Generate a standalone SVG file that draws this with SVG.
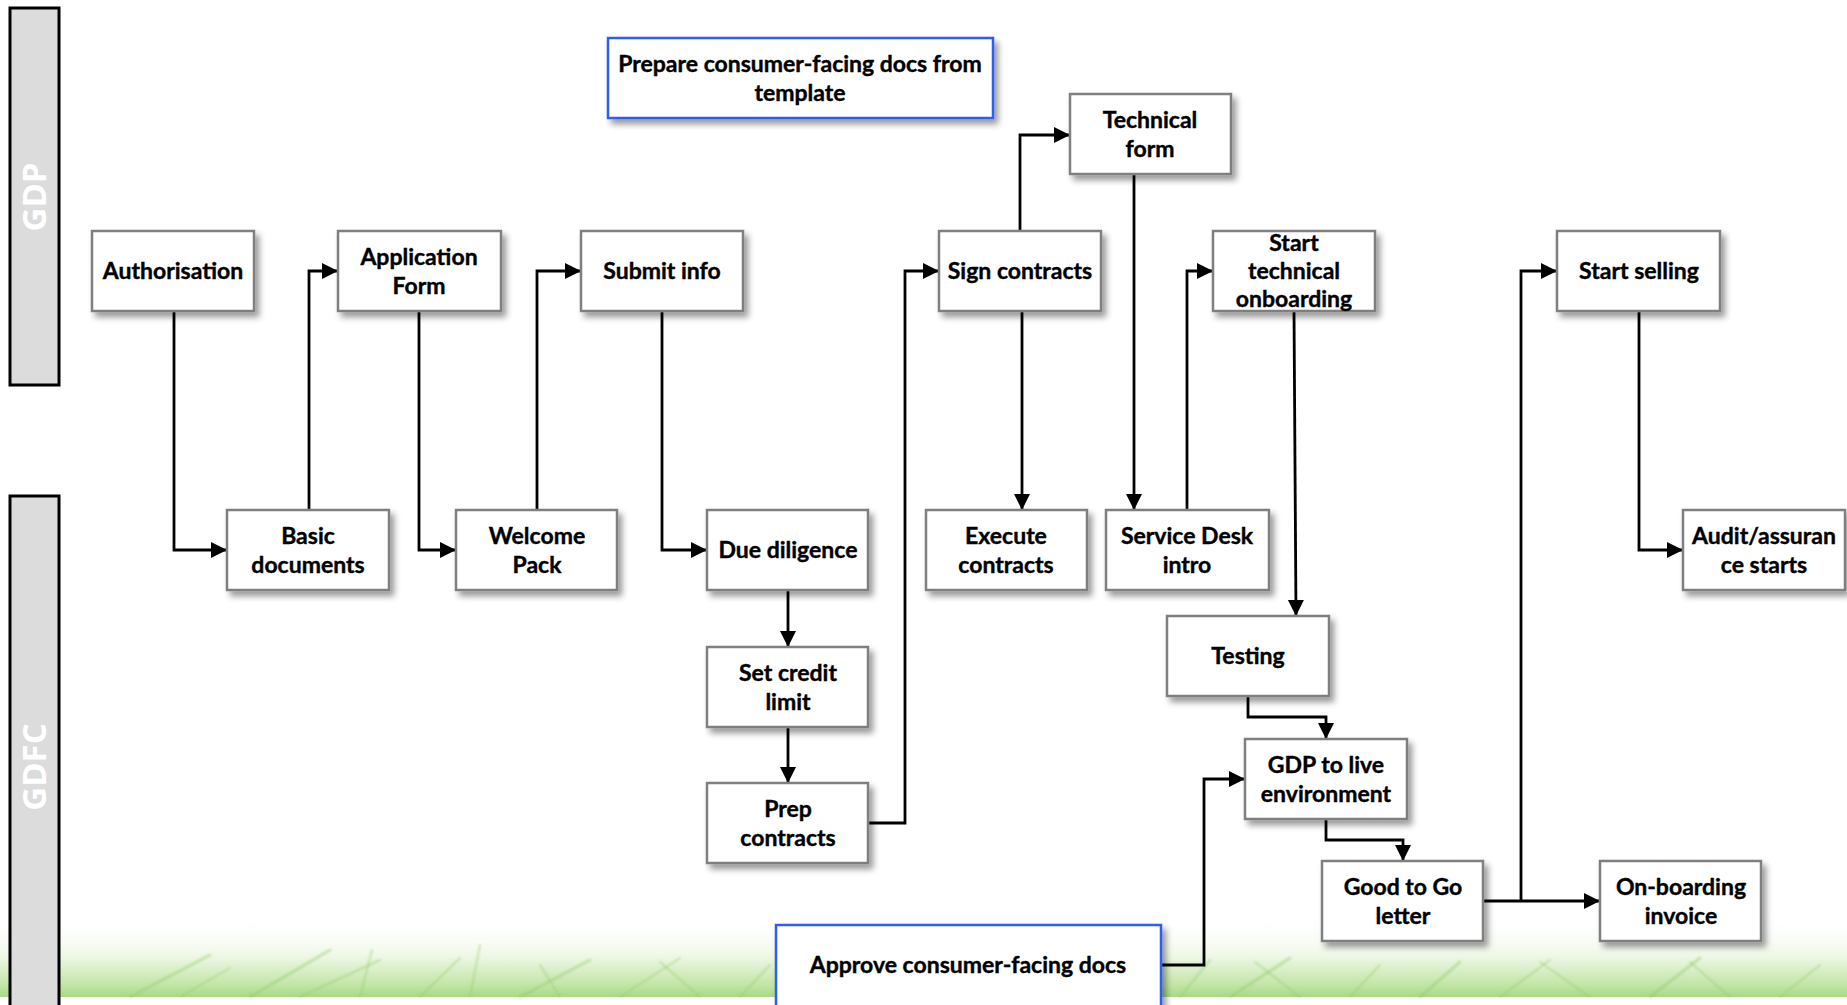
<svg xmlns="http://www.w3.org/2000/svg" width="1847" height="1005" viewBox="0 0 1847 1005">
  <style>
    .box { fill: #ffffff; stroke: #7f7f7f; stroke-width: 2.5; filter: url(#shadow); }
    .note { fill: #ffffff; stroke: #2f5df2; stroke-width: 2.5; filter: url(#shadow); }
    .lbl { font-family: Lato, "Open Sans", "Liberation Sans", sans-serif; font-weight: bold; font-size: 23px; fill: #000000; stroke: #000000; stroke-width: 0.4; text-anchor: middle; }
    .lane { fill: #dcdcdc; stroke: #000000; stroke-width: 3; }
    .lanetxt { font-family: "Open Sans", "Liberation Sans", sans-serif; font-weight: bold; font-size: 33px; fill: #ffffff; text-anchor: middle; }
    .wire { fill: none; stroke: #000000; stroke-width: 2.8; marker-end: url(#arrow); }
    .blade { fill: none; stroke: #93cd6c; stroke-linecap: round; }
  </style>
  <defs>
    <filter id="shadow" x="-10%" y="-10%" width="130%" height="140%">
      <feDropShadow dx="4" dy="5" stdDeviation="3" flood-color="#000000" flood-opacity="0.4"/>
    </filter>
    <filter id="lineShadow" x="-1%" y="-200%" width="102%" height="500%">
      <feDropShadow dx="2" dy="4" stdDeviation="2" flood-color="#000000" flood-opacity="0.3"/>
    </filter>
    <filter id="soft" x="-5%" y="-50%" width="110%" height="200%">
      <feGaussianBlur stdDeviation="1.2"/>
    </filter>
    <marker id="arrow" markerUnits="userSpaceOnUse" markerWidth="17" markerHeight="17" refX="16" refY="8" orient="auto">
      <path d="M0,0 L16,8 L0,16 Z" fill="#000000"/>
    </marker>
    <linearGradient id="grass" x1="0" y1="0" x2="0" y2="1">
      <stop offset="0" stop-color="#ffffff" stop-opacity="0"/>
      <stop offset="0.5" stop-color="#eef8e6"/>
      <stop offset="0.85" stop-color="#c3e5a6"/>
      <stop offset="1" stop-color="#a9d986"/>
    </linearGradient>
  </defs>

  <rect x="0" y="0" width="1847" height="1005" fill="#ffffff"/>

  <!-- grass strip along the bottom -->
  <g id="grass-band">
    <rect x="0" y="915" width="1847" height="82" fill="url(#grass)"/>
    <g class="blade" stroke-opacity="0.45" filter="url(#soft)">
      <path d="M130 997 L210 955" stroke-width="3"/>
      <path d="M180 997 L230 968" stroke-width="2"/>
      <path d="M250 997 L330 950" stroke-width="3"/>
      <path d="M300 997 L380 960" stroke-width="2"/>
      <path d="M360 997 L372 950" stroke-width="2"/>
      <path d="M420 997 L460 958" stroke-width="2"/>
      <path d="M470 997 L480 945" stroke-width="2"/>
      <path d="M520 997 L590 960" stroke-width="3"/>
      <path d="M560 997 L540 965" stroke-width="2"/>
      <path d="M620 997 L680 958" stroke-width="2"/>
      <path d="M700 997 L660 962" stroke-width="2"/>
      <path d="M740 997 L770 965" stroke-width="2"/>
      <path d="M1180 997 L1210 960" stroke-width="2"/>
      <path d="M1230 997 L1290 958" stroke-width="3"/>
      <path d="M1300 997 L1255 962" stroke-width="2"/>
      <path d="M1350 997 L1380 965" stroke-width="2"/>
      <path d="M1420 997 L1460 962" stroke-width="3"/>
      <path d="M1500 997 L1550 960" stroke-width="2"/>
      <path d="M1590 997 L1540 962" stroke-width="2"/>
      <path d="M1650 997 L1700 958" stroke-width="3"/>
      <path d="M1730 997 L1690 962" stroke-width="2"/>
      <path d="M1780 997 L1820 965" stroke-width="2"/>
    </g>
  </g>

  <!-- swimlane labels -->
  <g id="lane-gdp">
    <rect class="lane" x="10" y="8" width="49" height="377"/>
    <text class="lanetxt" transform="translate(46 197) rotate(-90)">GDP</text>
  </g>
  <g id="lane-gdfc">
    <rect class="lane" x="10" y="496" width="49" height="520"/>
    <text class="lanetxt" transform="translate(46 767) rotate(-90)">GDFC</text>
  </g>

  <!-- lane divider -->
  <line x1="32" y1="390" x2="1814" y2="390" stroke="#000000" stroke-width="3" stroke-dasharray="11 7" filter="url(#lineShadow)"/>

  <!-- connectors -->
  <g id="connectors">
    <path class="wire" d="M174 311 V550 H227"/>
    <path class="wire" d="M309 510 V271 H338"/>
    <path class="wire" d="M419 311 V550 H456"/>
    <path class="wire" d="M537 510 V271 H581"/>
    <path class="wire" d="M662 311 V550 H707"/>
    <path class="wire" d="M788 590 V647"/>
    <path class="wire" d="M788 727 V783"/>
    <path class="wire" d="M868 823 H905 V271 H939"/>
    <path class="wire" d="M1020 231 V135 H1070"/>
    <path class="wire" d="M1022 311 V510"/>
    <path class="wire" d="M1134 174 V510"/>
    <path class="wire" d="M1187 510 V271 H1213"/>
    <path class="wire" d="M1294 311 L1296 616"/>
    <path class="wire" d="M1248 696 V717 H1326 V739"/>
    <path class="wire" d="M1161 965 H1204 V779 H1245"/>
    <path class="wire" d="M1326 819 V840 H1403 V861"/>
    <path class="wire" d="M1483 901 H1600"/>
    <path class="wire" d="M1521 901 V271 H1557"/>
    <path class="wire" d="M1639 311 V550 H1683"/>
  </g>

  <!-- GDP lane steps -->
  <g id="prepare-docs">
    <rect class="note" x="608" y="38" width="385" height="80"/>
    <text class="lbl" x="800" y="72">Prepare consumer-facing docs from</text>
    <text class="lbl" x="800" y="101">template</text>
  </g>
  <g id="technical-form">
    <rect class="box" x="1070" y="94" width="161" height="80"/>
    <text class="lbl" x="1150" y="128">Technical</text>
    <text class="lbl" x="1150" y="157">form</text>
  </g>
  <g id="authorisation">
    <rect class="box" x="92" y="231" width="162" height="80"/>
    <text class="lbl" x="173" y="279">Authorisation</text>
  </g>
  <g id="application-form">
    <rect class="box" x="338" y="231" width="163" height="80"/>
    <text class="lbl" x="419" y="265">Application</text>
    <text class="lbl" x="419" y="294">Form</text>
  </g>
  <g id="submit-info">
    <rect class="box" x="581" y="231" width="162" height="80"/>
    <text class="lbl" x="662" y="279">Submit info</text>
  </g>
  <g id="sign-contracts">
    <rect class="box" x="939" y="231" width="162" height="80"/>
    <text class="lbl" x="1020" y="279">Sign contracts</text>
  </g>
  <g id="start-technical-onboarding">
    <rect class="box" x="1213" y="231" width="162" height="80"/>
    <text class="lbl" x="1294" y="251">Start</text>
    <text class="lbl" x="1294" y="279">technical</text>
    <text class="lbl" x="1294" y="307">onboarding</text>
  </g>
  <g id="start-selling">
    <rect class="box" x="1557" y="231" width="163" height="80"/>
    <text class="lbl" x="1639" y="279">Start selling</text>
  </g>

  <!-- GDFC lane steps -->
  <g id="basic-documents">
    <rect class="box" x="227" y="510" width="162" height="80"/>
    <text class="lbl" x="308" y="544">Basic</text>
    <text class="lbl" x="308" y="573">documents</text>
  </g>
  <g id="welcome-pack">
    <rect class="box" x="456" y="510" width="161" height="80"/>
    <text class="lbl" x="537" y="544">Welcome</text>
    <text class="lbl" x="537" y="573">Pack</text>
  </g>
  <g id="due-diligence">
    <rect class="box" x="707" y="510" width="161" height="80"/>
    <text class="lbl" x="788" y="558">Due diligence</text>
  </g>
  <g id="execute-contracts">
    <rect class="box" x="926" y="510" width="161" height="80"/>
    <text class="lbl" x="1006" y="544">Execute</text>
    <text class="lbl" x="1006" y="573">contracts</text>
  </g>
  <g id="service-desk-intro">
    <rect class="box" x="1106" y="510" width="163" height="80"/>
    <text class="lbl" x="1187" y="544">Service Desk</text>
    <text class="lbl" x="1187" y="573">intro</text>
  </g>
  <g id="audit-assurance">
    <rect class="box" x="1683" y="510" width="162" height="80"/>
    <text class="lbl" x="1764" y="544">Audit/assuran</text>
    <text class="lbl" x="1764" y="573">ce starts</text>
  </g>
  <g id="testing">
    <rect class="box" x="1167" y="616" width="162" height="80"/>
    <text class="lbl" x="1248" y="664">Testing</text>
  </g>
  <g id="set-credit-limit">
    <rect class="box" x="707" y="647" width="161" height="80"/>
    <text class="lbl" x="788" y="681">Set credit</text>
    <text class="lbl" x="788" y="710">limit</text>
  </g>
  <g id="gdp-to-live">
    <rect class="box" x="1245" y="739" width="162" height="80"/>
    <text class="lbl" x="1326" y="773">GDP to live</text>
    <text class="lbl" x="1326" y="802">environment</text>
  </g>
  <g id="prep-contracts">
    <rect class="box" x="707" y="783" width="161" height="80"/>
    <text class="lbl" x="788" y="817">Prep</text>
    <text class="lbl" x="788" y="846">contracts</text>
  </g>
  <g id="good-to-go-letter">
    <rect class="box" x="1322" y="861" width="161" height="80"/>
    <text class="lbl" x="1403" y="895">Good to Go</text>
    <text class="lbl" x="1403" y="924">letter</text>
  </g>
  <g id="onboarding-invoice">
    <rect class="box" x="1600" y="861" width="161" height="80"/>
    <text class="lbl" x="1681" y="895">On-boarding</text>
    <text class="lbl" x="1681" y="924">invoice</text>
  </g>
  <g id="approve-docs">
    <rect class="note" x="776" y="925" width="385" height="90"/>
    <text class="lbl" x="968" y="973">Approve consumer-facing docs</text>
  </g>
</svg>
